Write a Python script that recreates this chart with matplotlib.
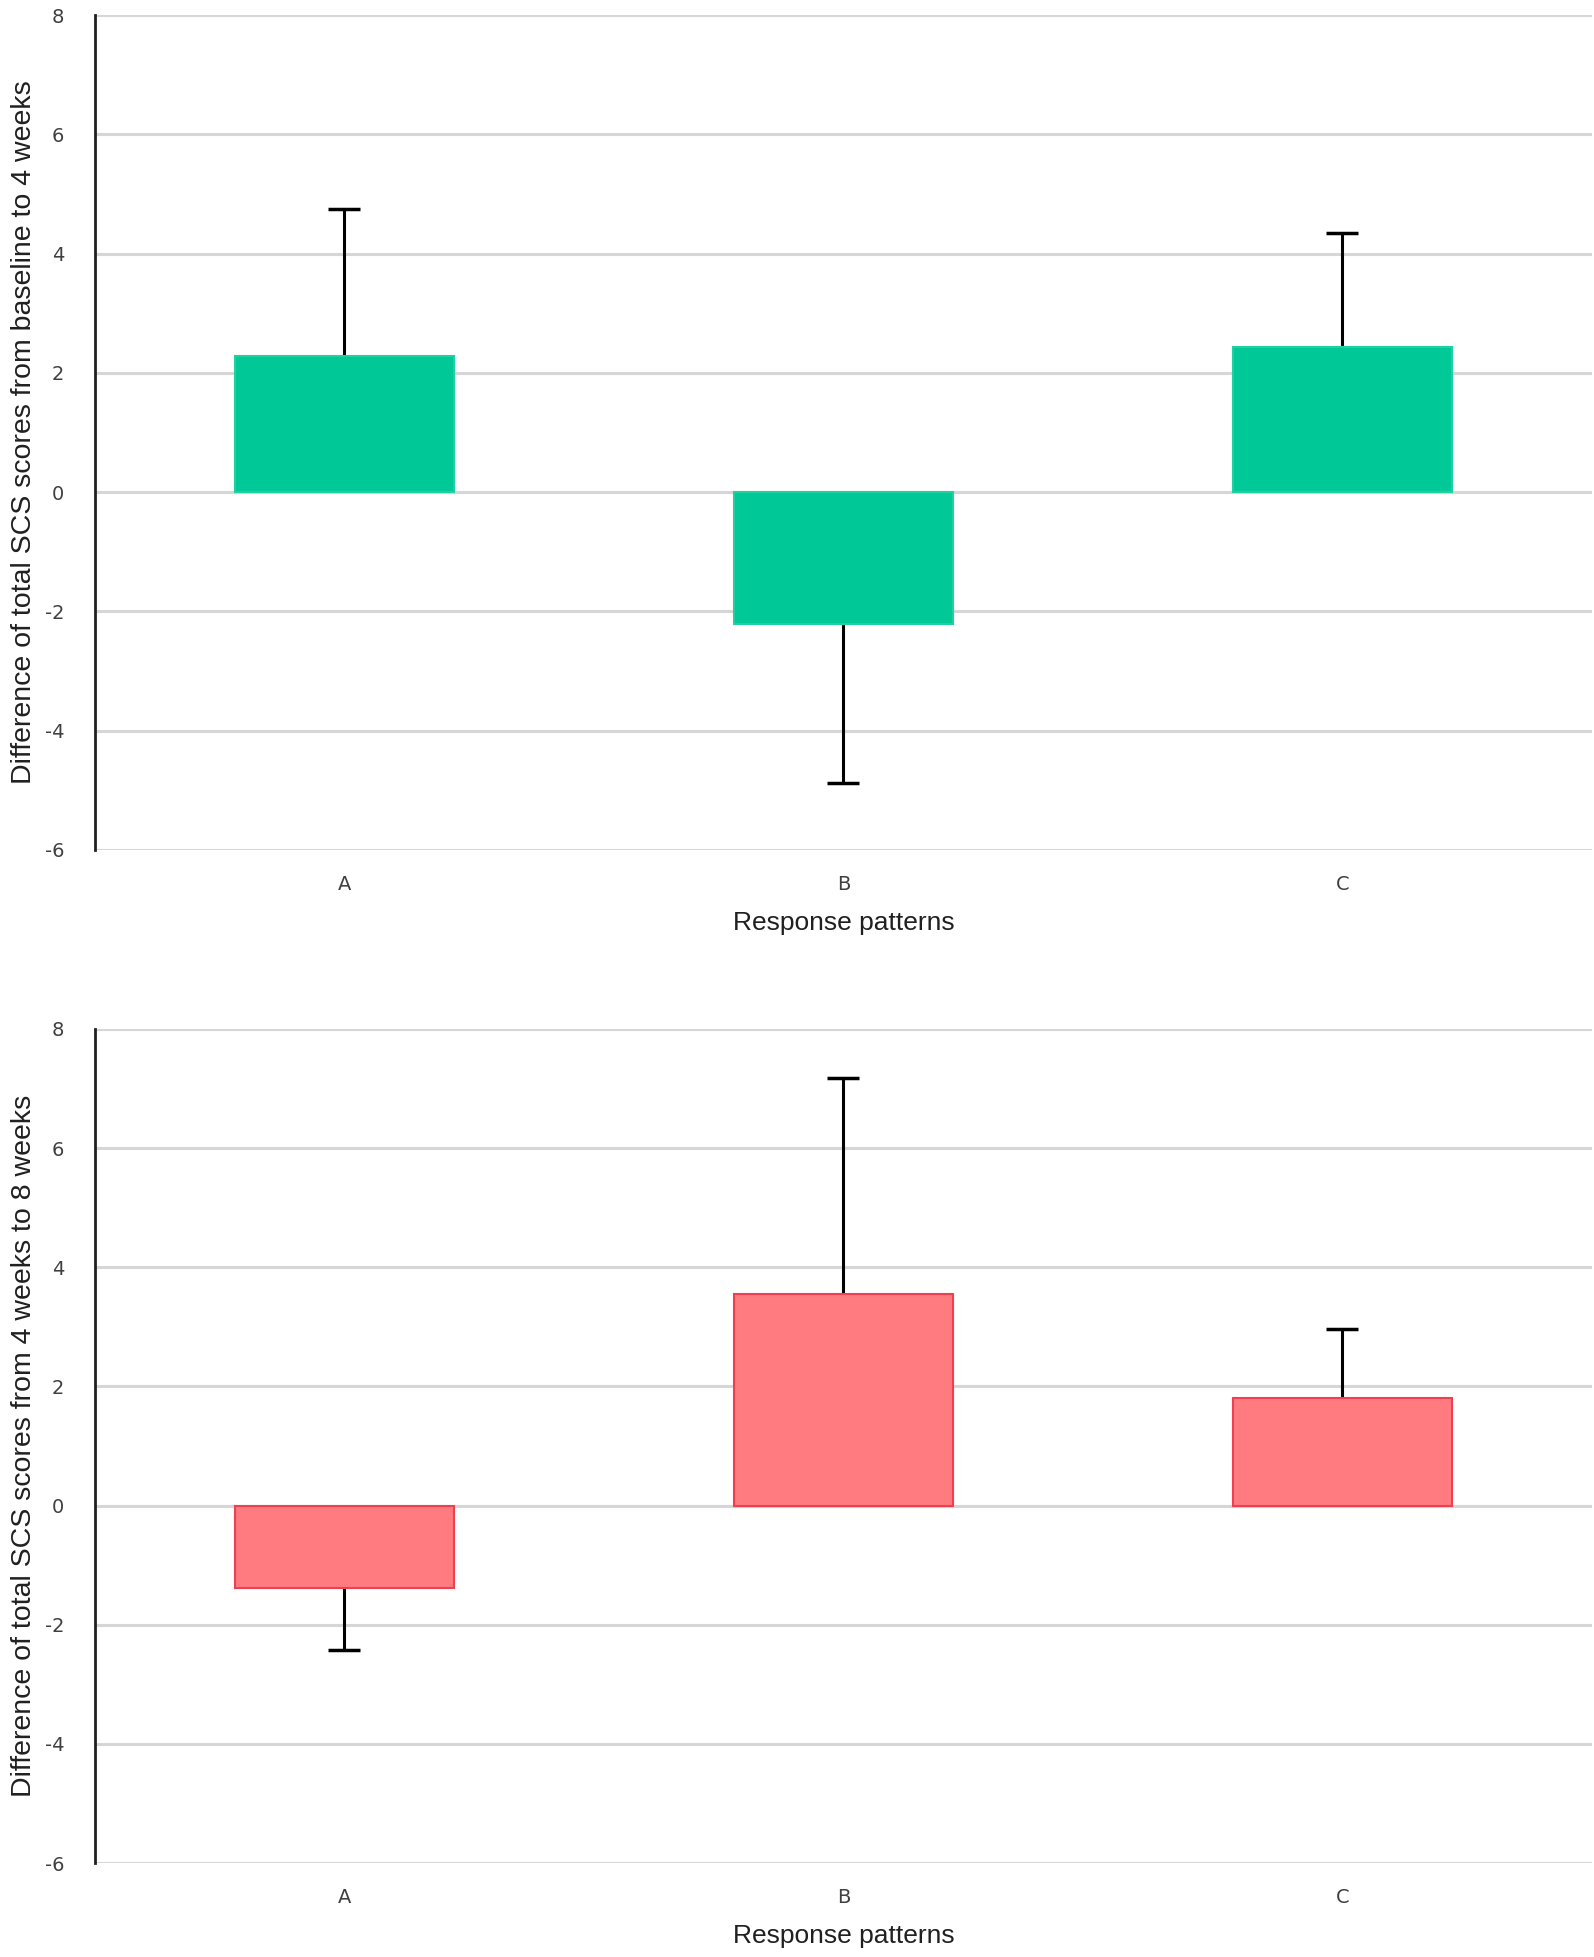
import numpy as np
import matplotlib
matplotlib.use('Agg')
import matplotlib.pyplot as plt
from matplotlib.ticker import FuncFormatter

# response patterns on the x axis
patterns = ['A', 'B', 'C']

# baseline -> 4 weeks
top_means = [2.28, -2.21, 2.43]
top_err = [2.46, 2.66, 1.91]

# 4 weeks -> 8 weeks
bottom_means = [-1.39, 3.55, 1.81]
bottom_err = [1.04, 3.62, 1.16]

yticks = [-6, -4, -2, 0, 2, 4, 6, 8]

top_label = 'Difference of total SCS scores from baseline to 4 weeks'
bottom_label = 'Difference of total SCS scores from 4 weeks to 8 weeks'
x_label = 'Response patterns'

green = '#00c896'
pink = '#ff7b80'


def draw(ax, means, errs, color, edge, ylabel):
  x = np.arange(len(patterns))
  # one-sided error bars, pointing away from zero
  tips = [m + e if m >= 0 else m - e for m, e in zip(means, errs)]
  ax.vlines(x, means, tips, color='black', linewidth=2.2, zorder=2)
  ax.plot(x, tips, linestyle='none', marker='_', markersize=23,
          markeredgewidth=2.5, color='black', zorder=2)
  ax.bar(x, means, width=0.44, color=color, edgecolor=edge, linewidth=1.5,
         zorder=3)
  ax.set_xlim(-0.5, 2.5)
  ax.set_ylim(-6, 8)
  ax.set_yticks(yticks)
  ax.yaxis.set_major_formatter(FuncFormatter(lambda v, p: '%d' % v))
  ax.set_xticks(x)
  ax.set_xticklabels(patterns)
  ax.yaxis.grid(True, color='#d6d6d6', linewidth=2.2)
  ax.set_axisbelow(True)
  for s in ['top', 'right', 'bottom']:
    ax.spines[s].set_visible(False)
  ax.spines['left'].set_color('#202020')
  ax.spines['left'].set_linewidth(2)
  ax.tick_params(axis='y', length=0, pad=22, labelsize=14, labelcolor='#404040')
  ax.tick_params(axis='x', length=0, pad=18, labelsize=14, labelcolor='#404040')
  ax.set_ylabel(ylabel, fontsize=20.5, family='Liberation Sans', color='#202020',
                labelpad=6)
  ax.set_xlabel(x_label, fontsize=19, family='Liberation Sans', color='#202020',
                labelpad=12)


fig = plt.figure(figsize=(15.94, 19.57), dpi=100)
ax1 = fig.add_axes([0.0596, 0.5657, 0.939, 0.4266])
ax2 = fig.add_axes([0.0596, 0.0480, 0.939, 0.4262])

draw(ax1, top_means, top_err, green, '#20d0a0', top_label)
draw(ax2, bottom_means, bottom_err, pink, '#f04050', bottom_label)

fig.savefig('out.png', dpi=100)
